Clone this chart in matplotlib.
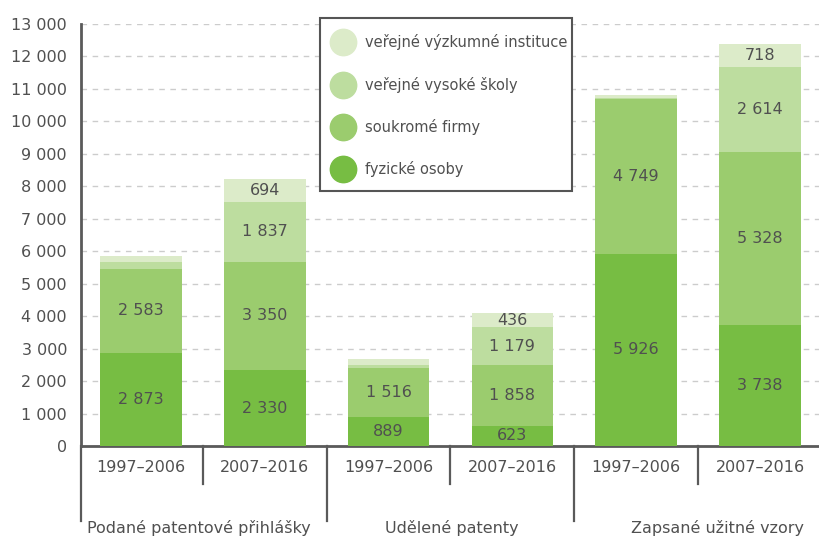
import numpy as np
import matplotlib.pyplot as plt
from matplotlib.lines import Line2D
from matplotlib.patches import Rectangle
from matplotlib.ticker import FuncFormatter

plt.rcParams['font.family'] = ['DejaVu Sans']

years = ['1997–2006', '2007–2016', '1997–2006', '2007–2016', '1997–2006', '2007–2016']
groups = ['Podané patentové přihlášky', 'Udělené patenty', 'Zapsané užitné vzory']

# values per segment, bottom to top
fyzicke = [2873, 2330, 889, 623, 5926, 3738]
firmy = [2583, 3350, 1516, 1858, 4749, 5328]
vs = [200, 1837, 90, 1179, 60, 2614]
vvi = [190, 694, 190, 436, 80, 718]

series = [fyzicke, firmy, vs, vvi]
names = ['fyzické osoby', 'soukromé firmy', 'veřejné vysoké školy', 'veřejné výzkumné instituce']
colors = ['#77bd43', '#9bcc6e', '#bddd9f', '#dcebc9']

txt = '#505050'
fmt = lambda v: f'{int(v):,}'.replace(',', ' ')

fig = plt.figure(figsize=(8.19, 5.37), dpi=100)
ax = fig.add_axes([81/819, 1 - 446/537, 1 - 81/819, 422/537])

x = np.arange(len(years))
bottom = np.zeros(len(years))
handles = []
for vals, c, n in zip(series, colors, names):
    vals = np.array(vals, dtype=float)
    ax.bar(x, vals, 0.66, bottom=bottom, color=c, zorder=3)
    for xi, b, v in zip(x, bottom, vals):
        if v > 300:
            ax.text(xi, b + v / 2, fmt(v), ha='center', va='center',
                    fontsize=11.5, color=txt, zorder=4)
    bottom += vals
    handles.append(Line2D([], [], ls='none', marker='o', ms=19, color=c, label=n))

ax.set_xlim(-0.485, 5.477)
ax.set_ylim(0, 13000)
ax.set_yticks(np.arange(0, 13001, 1000))
ax.yaxis.set_major_formatter(FuncFormatter(lambda v, p: fmt(v)))
ax.tick_params(axis='y', length=0, pad=10, labelsize=11.5, labelcolor=txt)
ax.set_xticks([])
ax.grid(axis='y', color='#cccccc', ls=(0, (4, 4)), lw=1, zorder=0)
for s in ['top', 'right']:
    ax.spines[s].set_visible(False)
for s in ['left', 'bottom']:
    ax.spines[s].set_color('#5a5a5a')
    ax.spines[s].set_linewidth(2)

# category axis below
tr = ax.get_xaxis_transform()
for xs in [0.5, 2.5, 4.5]:
    ax.plot([xs, xs], [0, -0.09], transform=tr, color='#5a5a5a', lw=1.6, clip_on=False)
for xs in [-0.485, 1.5, 3.5]:
    ax.plot([xs, xs], [0, -0.178], transform=tr, color='#5a5a5a', lw=1.6, clip_on=False)
for xi, y in zip(x, years):
    ax.text(xi, -0.05, y, transform=tr, ha='center', va='center', fontsize=11.5, color=txt)
for gx, g in zip([0.47, 2.51, 4.66], groups):
    ax.text(gx, -0.194, g, transform=tr, ha='center', va='center', fontsize=11.5, color=txt)

# legend box drawn separately
ax.add_patch(Rectangle((0.3238, 0.6043), 0.3415, 0.41, transform=ax.transAxes,
                       facecolor='white', edgecolor='#555555', lw=1.5,
                       clip_on=False, zorder=5))
leg = ax.legend(handles=handles[::-1], loc='center left', bbox_to_anchor=(0.3295, 0.806),
                frameon=False, fontsize=10.5, labelspacing=1.8,
                handletextpad=0.72, borderpad=0, handlelength=1.6, labelcolor=txt)
leg.set_zorder(6)

fig.savefig('out.png', dpi=100)
